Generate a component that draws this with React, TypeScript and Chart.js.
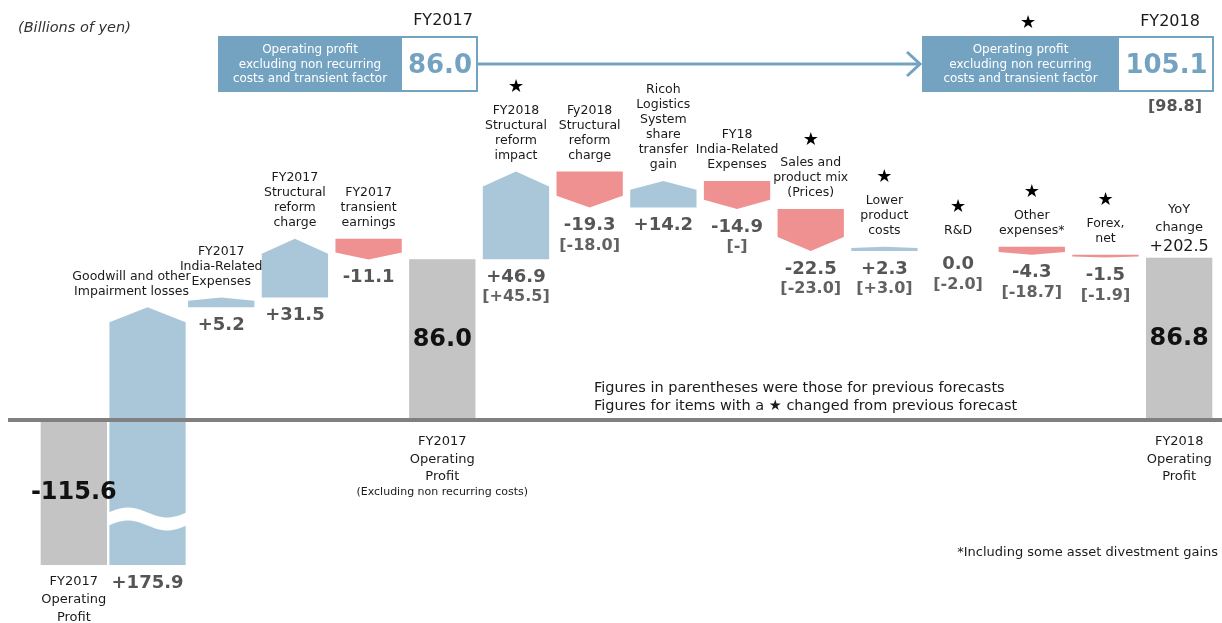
import React, { useEffect, useRef } from "react";
import { Chart, registerables } from "chart.js";

Chart.register(...registerables);

// ---------------- DATA ----------------
const categoryLabels: string[] = [
  "FY2017\nOperating\nProfit",
  "Goodwill and other\nImpairment losses",
  "FY2017\nIndia-Related\nExpenses",
  "FY2017\nStructural\nreform\ncharge",
  "FY2017\ntransient\nearnings",
  "FY2017\nOperating\nProfit",
  "FY2018\nStructural\nreform\nimpact",
  "Fy2018\nStructural\nreform\ncharge",
  "Ricoh\nLogistics\nSystem\nshare\ntransfer\ngain",
  "FY18\nIndia-Related\nExpenses",
  "Sales and\nproduct mix\n(Prices)",
  "Lower\nproduct\ncosts",
  "R&D",
  "Other\nexpenses*",
  "Forex,\nnet",
  "FY2018\nOperating\nProfit",
];

const isTotal: boolean[] = [
  true, false, false, false, false, true, false, false,
  false, false, false, false, false, false, false, true,
];

const values: number[] = [
  -115.6, 175.9, 5.2, 31.5, -11.1, 86.0, 46.9, -19.3,
  14.2, -14.9, -22.5, 2.3, 0.0, -4.3, -1.5, 86.8,
];

const previousForecasts: string[] = [
  "", "", "", "", "", "", "+45.5", "-18.0",
  "", "-", "-23.0", "+3.0", "-2.0", "-18.7", "-1.9", "",
];

const changedFromForecast: boolean[] = [
  false, false, false, false, false, false, true, false,
  false, false, true, true, true, true, true, false,
];

const adjustedProfitFY2017 = 86.0;
const adjustedProfitFY2018 = 105.1;
const adjustedProfitFY2018Previous = 98.8;
const yoyChange = 202.5;

const unitLabel = "(Billions of yen)";
const adjustedBoxText = ["Operating profit", "excluding non recurring", "costs and transient factor"];
const totalNote = "(Excluding non recurring costs)";
const noteLines = [
  "Figures in parentheses were those for previous forecasts",
  "Figures for items with a \u2605 changed from previous forecast",
];
const footnote = "*Including some asset divestment gains";

// waterfall ranges built from the values
const ranges: [number, number][] = [];
{
  let run = 0;
  values.forEach((v, i) => {
    if (isTotal[i]) {
      ranges.push([0, v]);
      run = v;
    } else {
      ranges.push([run, run + v]);
      run += v;
    }
  });
}

// ---------------- STYLE ----------------
const FONT = '"DejaVu Sans", Verdana, sans-serif';
const BLUE = "rgb(170,199,217)";
const RED = "rgb(240,145,145)";
const GRAY = "rgb(196,196,196)";
const HEAD_BLUE = "rgb(116,163,193)";
const VALUE_COLOR = "#555555";
const TEXT_COLOR = "#1a1a1a";
const widthFactor: Record<number, number> = { 1: 1.15 };
const labelOffsetX: Record<number, number> = { 1: -16 };

function fmt(v: number, total: boolean) {
  if (total || v <= 0) return v.toFixed(1);
  return "+" + v.toFixed(1);
}

function drawLines(ctx: CanvasRenderingContext2D, lines: string[], x: number, yFirst: number, lh: number) {
  lines.forEach((l, k) => ctx.fillText(l, x, yFirst + k * lh));
}

const waterfallPlugin = {
  id: "waterfallShapes",
  afterDatasetsDraw(chart: any) {
    const ctx: CanvasRenderingContext2D = chart.ctx;
    const meta = chart.getDatasetMeta(0);
    const yS = chart.scales.y;
    const area = chart.chartArea;
    const zeroY = yS.getPixelForValue(0);

    // ---- bars ----
    ctx.save();
    ctx.beginPath();
    ctx.rect(0, area.top, chart.width, area.bottom - area.top);
    ctx.clip();
    meta.data.forEach((el: any, i: number) => {
      const { x, width } = el.getProps(["x", "width"], true);
      const w = width * (widthFactor[i] || 1);
      const x0 = x - w / 2;
      const x1 = x + w / 2;
      const [s, e] = ranges[i];
      const yStart = yS.getPixelForValue(s);
      const yEnd = yS.getPixelForValue(e);
      if (isTotal[i]) {
        ctx.fillStyle = GRAY;
        ctx.fillRect(x0, Math.min(yStart, yEnd), w, Math.abs(yEnd - yStart));
        return;
      }
      const h = Math.abs(yEnd - yStart);
      if (h < 0.5) return;
      const tip = Math.min(15, h * 0.33);
      const dir = yEnd < yStart ? 1 : -1;
      ctx.fillStyle = e > s ? BLUE : RED;
      ctx.beginPath();
      ctx.moveTo(x0, yStart);
      ctx.lineTo(x1, yStart);
      ctx.lineTo(x1, yEnd + dir * tip);
      ctx.lineTo(x, yEnd);
      ctx.lineTo(x0, yEnd + dir * tip);
      ctx.closePath();
      ctx.fill();

      // broken-axis wave on bars that run past the plot bottom
      if (Math.max(yStart, yEnd) > area.bottom) {
        const yc = area.bottom - 46;
        const th = 13;
        const amp = 5;
        const n = 30;
        ctx.fillStyle = "#ffffff";
        ctx.beginPath();
        for (let k = 0; k <= n; k++) {
          const t = k / n;
          const px = x0 - 1 + (w + 2) * t;
          const py = yc - amp * Math.sin(2 * Math.PI * t) - th / 2;
          if (k === 0) ctx.moveTo(px, py);
          else ctx.lineTo(px, py);
        }
        for (let k = n; k >= 0; k--) {
          const t = k / n;
          const px = x0 - 1 + (w + 2) * t;
          const py = yc - amp * Math.sin(2 * Math.PI * t) + th / 2;
          ctx.lineTo(px, py);
        }
        ctx.closePath();
        ctx.fill();
      }
    });
    ctx.restore();

    // ---- baseline ----
    ctx.save();
    ctx.strokeStyle = "#808080";
    ctx.lineWidth = 4;
    ctx.beginPath();
    ctx.moveTo(8, zeroY);
    ctx.lineTo(chart.width, zeroY);
    ctx.stroke();
    ctx.restore();

    // ---- labels ----
    ctx.save();
    ctx.textAlign = "center";
    ctx.textBaseline = "middle";
    meta.data.forEach((el: any, i: number) => {
      const { x } = el.getProps(["x"], true);
      const lx = x + (labelOffsetX[i] || 0);
      const [s, e] = ranges[i];
      const yA = yS.getPixelForValue(s);
      const yB = yS.getPixelForValue(e);
      const top = Math.min(yA, yB);
      const bottomRaw = Math.max(yA, yB);
      const bottom = Math.min(bottomRaw, area.bottom);
      const lines = categoryLabels[i].split("\n");

      if (isTotal[i]) {
        // value inside the bar
        ctx.fillStyle = "#111";
        ctx.font = `bold 24px ${FONT}`;
        ctx.fillText(fmt(values[i], true), x, (top + bottom) / 2);
        ctx.fillStyle = TEXT_COLOR;
        ctx.font = `13px ${FONT}`;
        if (values[i] < 0) {
          drawLines(ctx, lines, x, bottom + 17, 18);
        } else {
          drawLines(ctx, lines, x, zeroY + 22, 17.5);
          if (i === 5) {
            ctx.font = `11px ${FONT}`;
            ctx.fillText(totalNote, x, zeroY + 22 + lines.length * 17.5 - 2);
          }
          if (i === categoryLabels.length - 1) {
            ctx.font = `13px ${FONT}`;
            ctx.fillText("YoY", x, top - 48);
            ctx.fillText("change", x, top - 30);
            ctx.font = `16px ${FONT}`;
            ctx.fillText("+" + yoyChange.toFixed(1), x, top - 11);
          }
        }
        return;
      }

      // category label above
      ctx.fillStyle = TEXT_COLOR;
      ctx.font = `12.5px ${FONT}`;
      const lastY = top - 16;
      const firstY = lastY - (lines.length - 1) * 15;
      drawLines(ctx, lines, lx, firstY, 15);
      if (changedFromForecast[i]) {
        ctx.fillStyle = "#000";
        ctx.font = `18px ${FONT}`;
        ctx.fillText("\u2605", lx, firstY - 23);
      }
      // value below
      ctx.fillStyle = VALUE_COLOR;
      ctx.font = `bold 18px ${FONT}`;
      ctx.fillText(fmt(values[i], false), x, bottom + 18);
      if (previousForecasts[i]) {
        ctx.fillStyle = "#626262";
        ctx.font = `bold 16px ${FONT}`;
        ctx.fillText(`[${previousForecasts[i]}]`, x, bottom + 38);
      }
    });
    ctx.restore();
  },
  afterDraw(chart: any) {
    const ctx: CanvasRenderingContext2D = chart.ctx;
    ctx.save();
    ctx.textBaseline = "middle";

    // unit
    ctx.fillStyle = "#333";
    ctx.font = `italic 14.5px ${FONT}`;
    ctx.textAlign = "left";
    ctx.fillText(unitLabel, 18, 28);

    const drawBox = (x0: number, split: number, x1: number, val: string) => {
      const y0 = 36, h = 56;
      ctx.fillStyle = "#fff";
      ctx.fillRect(x0, y0, x1 - x0, h);
      ctx.fillStyle = HEAD_BLUE;
      ctx.fillRect(x0, y0, split - x0, h);
      ctx.strokeStyle = HEAD_BLUE;
      ctx.lineWidth = 2;
      ctx.strokeRect(x0 + 1, y0 + 1, x1 - x0 - 2, h - 2);
      ctx.fillStyle = "#fff";
      ctx.font = `12px ${FONT}`;
      ctx.textAlign = "center";
      drawLines(ctx, adjustedBoxText, (x0 + split) / 2, 50, 14.5);
      ctx.fillStyle = HEAD_BLUE;
      ctx.font = `bold 26px ${FONT}`;
      ctx.fillText(val, (split + x1) / 2, 66);
    };

    // arrow between boxes
    ctx.strokeStyle = HEAD_BLUE;
    ctx.lineWidth = 3;
    ctx.beginPath();
    ctx.moveTo(478, 64);
    ctx.lineTo(919, 64);
    ctx.stroke();
    ctx.beginPath();
    ctx.moveTo(907, 52);
    ctx.lineTo(920, 64);
    ctx.lineTo(907, 76);
    ctx.stroke();

    drawBox(218, 402, 478, adjustedProfitFY2017.toFixed(1));
    drawBox(922, 1119, 1214, adjustedProfitFY2018.toFixed(1));

    ctx.fillStyle = TEXT_COLOR;
    ctx.font = `16px ${FONT}`;
    ctx.textAlign = "center";
    ctx.fillText("FY2017", 443, 21);
    ctx.fillText("FY2018", 1170, 22);
    ctx.fillStyle = "#000";
    ctx.font = `18px ${FONT}`;
    ctx.fillText("\u2605", 1028, 23);
    ctx.fillStyle = VALUE_COLOR;
    ctx.font = `bold 16px ${FONT}`;
    ctx.fillText(`[${adjustedProfitFY2018Previous.toFixed(1)}]`, 1175, 107);

    // notes
    ctx.fillStyle = TEXT_COLOR;
    ctx.font = `14.5px ${FONT}`;
    ctx.textAlign = "left";
    ctx.fillText(noteLines[0], 594, 388);
    ctx.fillText(noteLines[1], 594, 406);
    ctx.textAlign = "right";
    ctx.font = `13px ${FONT}`;
    ctx.fillText(footnote, 1218, 553);
    ctx.restore();
  },
};

export default function App() {
  const ref = useRef<HTMLCanvasElement>(null);
  useEffect(() => {
    if (!ref.current) return;
    const chart = new Chart(ref.current, {
      type: "bar",
      data: {
        labels: categoryLabels.map((l) => l.replace(/\n/g, " ")),
        datasets: [
          {
            data: ranges as any,
            backgroundColor: "rgba(0,0,0,0)",
            borderWidth: 0,
            barPercentage: 0.9,
            categoryPercentage: 1,
          },
        ],
      },
      options: {
        responsive: false,
        animation: false,
        events: [],
        layout: { padding: { left: 37, right: 6, top: 0, bottom: 58 } },
        plugins: { legend: { display: false }, tooltip: { enabled: false } },
        scales: {
          x: { display: false },
          y: { display: false, min: -77.5, max: 224.6 },
        },
      },
      plugins: [waterfallPlugin as any],
    });
    return () => chart.destroy();
  }, []);
  return (
    <div style={{ position: "absolute", left: 0, top: 0, width: 1222, height: 623, background: "#fff" }}>
      <canvas ref={ref} width={1222} height={623} style={{ display: "block", width: 1222, height: 623 }} />
    </div>
  );
}
